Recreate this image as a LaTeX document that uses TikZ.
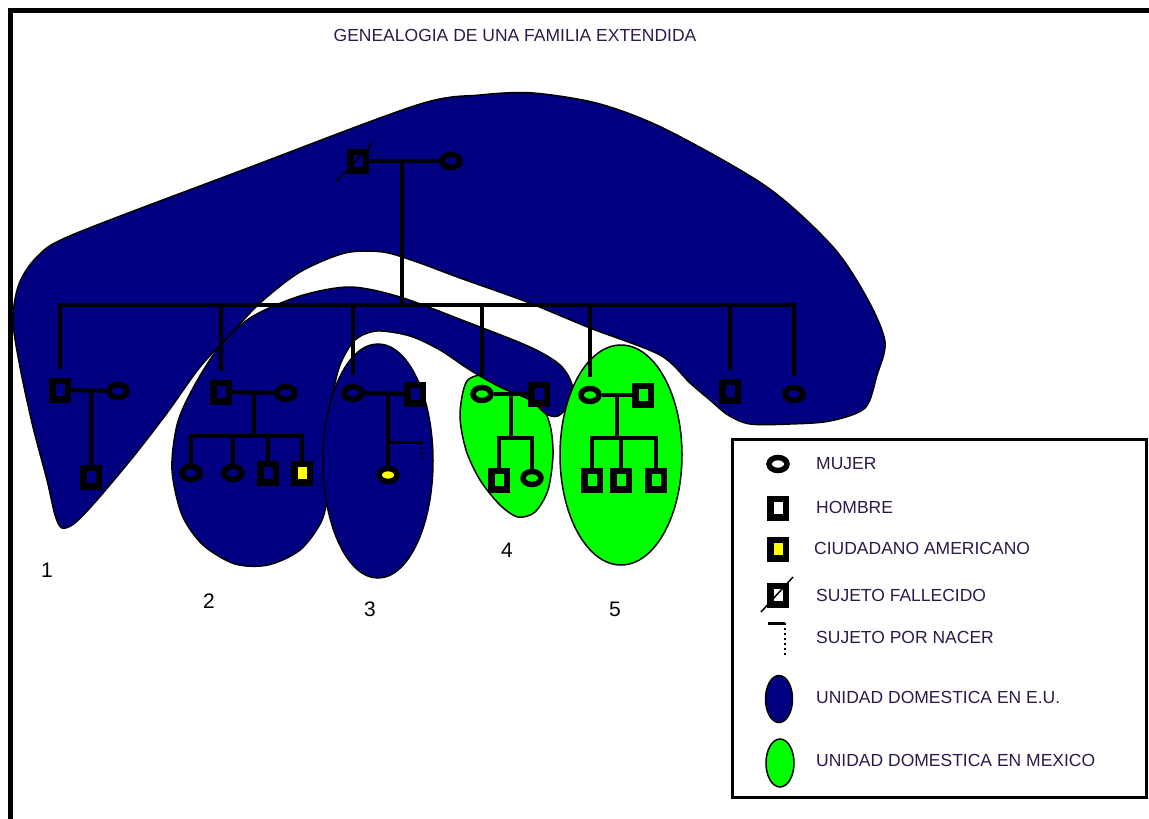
\documentclass[tikz,border=0pt]{standalone}
\usepackage{fontspec}
\setmainfont{Liberation Sans}
\usetikzlibrary{shapes.geometric,calc}

\definecolor{azulEU}{RGB}{0,0,128}
\definecolor{verdeMX}{RGB}{0,255,0}
\definecolor{amarillo}{RGB}{255,255,0}
\definecolor{letra}{RGB}{45,25,75}

\begin{document}
\begin{tikzpicture}[x=1pt,y=-1pt,
  hombre/.style={draw,rectangle,line width=6.5pt,minimum width=15.5pt,minimum height=18.5pt,inner sep=0pt},
  mujer/.style={draw,ellipse,line width=5.5pt,minimum width=18pt,minimum height=13pt,inner sep=0pt},
  ciudadano/.style={fill=amarillo},
  linea/.style={line width=4pt},
  baja/.style={linea,shorten <=9pt},
  muerte/.style={line width=1.5pt},
  puntos/.style={line width=1.5pt,dash pattern=on 2pt off 3pt},
  unidad/.style={draw=black,line width=1.5pt},
  texto/.style={text=letra,font=\fontsize{17.5}{20}\selectfont,anchor=west,inner sep=0pt},
  numero/.style={text=black,font=\fontsize{21}{24}\selectfont}]

\useasboundingbox (0,0) rectangle (1149,819);
\draw[line width=5pt] (10,819) -- (10,10) -- (1149,10);

\node[texto,anchor=center] (titulo) at (515,35) {GENEALOGIA DE UNA FAMILIA EXTENDIDA};

% unidades domesticas
\filldraw[unidad,fill=azulEU] plot[smooth cycle] coordinates {(13,320) (19,284) (37,257) (72,235) (240,171) (417,105) (480,95) (533,93) (600,104) (667,130) (767,187) (833,247) (868,300) (885,342) (877,375) (865,408) (830,421) (790,424) (750,424) (728,415) (710,400) (690,383) (660,355) (590,328) (527,302) (460,278) (417,262) (383,252) (345,253) (300,272) (260,303) (230,335) (200,367) (167,413) (133,457) (97,500) (75,523) (62,528) (55,515) (47,480) (33,427) (20,367)};
\filldraw[unidad,fill=verdeMX] plot[smooth cycle] coordinates {(467,381) (490,374) (515,380) (538,398) (550,425) (553,455) (548,490) (535,512) (518,517) (500,505) (480,480) (466,450) (460,415)};
\filldraw[unidad,fill=azulEU] plot[smooth cycle] coordinates {(172,470) (177,425) (192,390) (217,350) (250,318) (300,296) (350,287) (400,297) (467,322) (530,347) (560,365) (572,385) (568,405) (558,416) (546,414) (530,400) (500,387) (470,370) (440,350) (410,336) (377,331) (355,340) (340,365) (332,400) (330,440) (330,480) (322,520) (300,550) (268,565) (235,564) (203,545) (182,515)};
\filldraw[unidad,fill=azulEU] (378,461) ellipse [x radius=55pt,y radius=117pt];
\filldraw[unidad,fill=verdeMX] (621,455) ellipse [x radius=61pt,y radius=110pt];

% primera generacion
\node[hombre] (abuelo) at (358,161) {};
\node[mujer] (abuela) at (451,161) {};
\draw[muerte] ([shift={(-21,20)}]abuelo.center) -- ([shift={(16,-19)}]abuelo.center);
\draw[linea] (abuelo) -- (abuela);
\coordinate (u0) at (402,161);
\coordinate (b0) at (402,305);
\draw[linea] (u0) -- (b0);

% hijos y sus familias
\node[hombre] (h1) at (60,390) {};
\node[mujer] (m1) at (118,391) {};
\node[hombre] (h1a) at (91,477) {};
\node[hombre] (h2) at (221,392) {};
\node[mujer] (m2) at (286,393) {};
\node[mujer] (m2a) at (191,473) {};
\node[mujer] (m2b) at (233,473) {};
\node[hombre] (h2a) at (268,473) {};
\node[hombre,ciudadano] (h2b) at (302,473) {};
\node[mujer] (m3) at (353,393) {};
\node[hombre] (h3) at (415,394) {};
\node[mujer,ciudadano] (m3a) at (388,475) {};
\node[mujer] (m4) at (482,394) {};
\node[hombre] (h4) at (539,394) {};
\node[hombre] (h4a) at (499,480) {};
\node[mujer] (m4a) at (532,478) {};
\node[mujer] (m5) at (590,395) {};
\node[hombre] (h5) at (643,395) {};
\node[hombre] (h5a) at (592,480) {};
\node[hombre] (h5b) at (621,480) {};
\node[hombre] (h5c) at (656,480) {};
\node[hombre] (h6) at (730,391) {};
\node[mujer] (m6) at (794,394) {};

\foreach \n in {h1,h2,m3,m4,m5,h6,m6}
  \draw[baja] (\n) |- (b0);

\draw[linea] (h1) -- (m1);
\draw[linea] (h1a) -- (h1a |- h1);

\draw[linea] (h2) -- (m2);
\coordinate (u2) at ($(h2)!0.5!(m2)$);
\coordinate (b2) at ($(u2)+(0,43)$);
\draw[linea] (u2) -- (b2);
\foreach \n in {m2a,m2b,h2a,h2b}
  \draw[linea] (\n) |- (b2);

\draw[linea] (m3) -- (h3);
\draw[linea] (m3a) -- (m3a |- m3);
\coordinate (n3) at ($(m3a |- m3)+(0,49)$);
\draw[line width=3pt] (n3) -- ++(34,0) coordinate (n3b);
\draw[puntos] (n3b) -- ++(0,20);

\draw[linea] (m4) -- (h4);
\coordinate (u4) at ($(m4)!0.5!(h4)$);
\coordinate (b4) at ($(u4)+(0,44)$);
\draw[linea] (u4) -- (b4);
\foreach \n in {h4a,m4a}
  \draw[linea] (\n) |- (b4);

\draw[linea] (m5) -- (h5);
\coordinate (u5) at ($(m5)!0.5!(h5)$);
\coordinate (b5) at ($(u5)+(0,43)$);
\draw[linea] (u5) -- (b5);
\foreach \n in {h5a,h5b,h5c}
  \draw[linea] (\n) |- (b5);

\node[numero] (uno) at (47,570) {1};
\node[numero] (dos) at (209,601) {2};
\node[numero] (tres) at (370,609) {3};
\node[numero] (cuatro) at (507,550) {4};
\node[numero] (cinco) at (615,609) {5};

% simbologia
\draw[line width=3pt] (732.5,439.5) rectangle (1146.5,797);
\node[mujer] (lmujer) at (778,464) {};
\node[texto] (tmujer) at (816,464) {MUJER};
\node[hombre] (lhombre) at (778,508) {};
\node[texto] (thombre) at (816,507) {HOMBRE};
\node[hombre,ciudadano] (lciudadano) at (778,549) {};
\node[texto] (tciudadano) at (814,548) {CIUDADANO AMERICANO};
\node[hombre] (lmuerto) at (778,595) {};
\draw[muerte] ([shift={(-17,17)}]lmuerto.center) -- ([shift={(15,-18)}]lmuerto.center);
\node[texto] (tmuerto) at (816,595) {SUJETO FALLECIDO};
\coordinate (lnacer) at (768,623);
\draw[line width=3pt] (lnacer) -- ++(17,0) coordinate (lnacer2);
\draw[puntos] (lnacer2) -- ++(0,32);
\node[texto] (tnacer) at (816,637) {SUJETO POR NACER};
\node[unidad,ellipse,fill=azulEU,minimum width=27pt,minimum height=47pt] (leu) at (779,699) {};
\node[texto] (teu) at (816,697) {UNIDAD DOMESTICA EN E.U.};
\node[unidad,ellipse,fill=verdeMX,minimum width=28pt,minimum height=48pt] (lmx) at (780,763) {};
\node[texto] (tmx) at (816,760) {UNIDAD DOMESTICA EN MEXICO};

\end{tikzpicture}
\end{document}
